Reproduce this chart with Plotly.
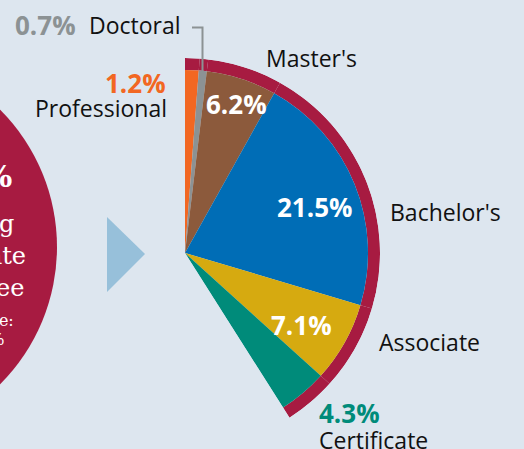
import math
import plotly.graph_objects as go

# ---- data ----
categories = ["Professional", "Doctoral", "Master's", "Bachelor's", "Associate", "Certificate"]
values = [1.2, 0.7, 6.2, 21.5, 7.1, 4.3]          # percent of population
colors = ["#f26722", "#8c9294", "#8c5a3c", "#006db6", "#d6aa10", "#008b7a"]
value_labels = ["1.2%", "0.7%", "6.2%", "21.5%", "7.1%", "4.3%"]

circle_lines = ["41%", "holding", "certificate", "or degree", "Statewide:", "47%"]

# ---- styling constants ----
W, H = 524, 449
BG = "#dde6ef"
CRIMSON = "#a71b41"
CX, CY = 185, 253          # pie center in pixels
R_OUT, R_IN = 195, 183
DEG_PER_PCT = 3.6

total = sum(values)
span = total * DEG_PER_PCT
cum = 0
thetas, widths = [], []
for v in values:
    thetas.append((cum + v / 2) * DEG_PER_PCT)
    widths.append(v * DEG_PER_PCT)
    cum += v

fig = go.Figure()

# invisible cartesian overlay for decorations/labels
fig.add_trace(go.Scatter(x=[0, W], y=[0, H], mode="markers",
                         marker=dict(opacity=0), hoverinfo="skip", showlegend=False))

# crimson outer ring
fig.add_trace(go.Barpolar(r=[R_OUT - R_IN] * len(values), base=[R_IN] * len(values),
                          theta=thetas, width=widths,
                          marker=dict(color=CRIMSON, line=dict(width=0)),
                          showlegend=False, hoverinfo="skip"))
# slices
fig.add_trace(go.Barpolar(r=[R_IN] * len(values), theta=thetas, width=widths,
                          marker=dict(color=colors, line=dict(width=0)),
                          text=categories, showlegend=False))

end_screen = 90 - span
dy_low = -math.sin(math.radians(end_screen)) if end_screen < 0 else 0
x0p, x1p = CX, CX + R_OUT
y_top, y_bot = CY - R_OUT, CY + dy_low * R_OUT
fig.update_layout(
    polar=dict(
        domain=dict(x=[x0p / W, x1p / W], y=[(H - y_bot) / H, (H - y_top) / H]),
        sector=[end_screen, 90],
        bgcolor="rgba(0,0,0,0)",
        bargap=0,
        angularaxis=dict(rotation=90, direction="clockwise", visible=False,
                         showgrid=False, showline=False, ticks=""),
        radialaxis=dict(range=[0, R_OUT], visible=False, showgrid=False,
                        showline=False, ticks=""),
        hole=0,
    )
)

shapes = [
    dict(type="circle", xref="x", yref="y", x0=-137 - 194, x1=-137 + 194,
         y0=247 - 194, y1=247 + 194, fillcolor=CRIMSON, line=dict(width=0), layer="below"),
    dict(type="path", xref="x", yref="y", path="M 107,217 L 145,254 L 107,292 Z",
         fillcolor="#97c0da", line=dict(width=0), layer="below"),
    dict(type="path", xref="x", yref="y", path="M 202.5,74 L 202.5,27.5 L 192,27.5",
         line=dict(color="#8c9294", width=2), layer="above"),
]

LABEL_FONT = "Open Sans"
LBL = 23
PCT = 26
ann = []


def label(text, x, y, xanchor="left", color="#111111", size=LBL, bold=False, align="left"):
    t = f"<b>{text}</b>" if bold else text
    ann.append(dict(text=t, x=x, y=y, xref="x", yref="y", xanchor=xanchor, yanchor="middle",
                    showarrow=False, align=align,
                    font=dict(family=LABEL_FONT, size=size, color=color)))


# Doctoral
label(value_labels[1], 78, 25, xanchor="right", color=colors[1], size=PCT, bold=True)
label(categories[1], 87, 25)
# Professional
label(value_labels[0], 168, 83, xanchor="right", color=colors[0], size=PCT, bold=True)
label(categories[0], 169, 108, xanchor="right")
# Master's
label(value_labels[2], 236, 104, xanchor="center", color="white", size=PCT, bold=True)
label(categories[2], 264, 58)
# Bachelor's
label(value_labels[3], 314, 207, xanchor="center", color="white", size=PCT, bold=True)
label(categories[3], 388, 212)
# Associate
label(value_labels[4], 301, 325, xanchor="center", color="white", size=PCT, bold=True)
label(categories[4], 377, 342)
# Certificate
label(value_labels[5], 317, 413, color=colors[5], size=PCT, bold=True)
label(categories[5], 317, 440)

SERIF = "DejaVu Serif"
circ_specs = [(circle_lines[0], 14, 176, 30, True),
              (circle_lines[1], 16, 224, 24, False),
              (circle_lines[2], 28, 256, 24, False),
              (circle_lines[3], 26, 288, 24, False),
              (circle_lines[4], 16, 320, 16, False),
              (circle_lines[5], 7, 339, 16, False)]
for txt, x, y, sz, b in circ_specs:
    ann.append(dict(text=f"<b>{txt}</b>" if b else txt, x=x, y=y, xref="x", yref="y",
                    xanchor="right", yanchor="middle", showarrow=False,
                    font=dict(family=SERIF, size=sz, color="white")))

fig.update_layout(
    width=W, height=H,
    margin=dict(l=0, r=0, t=0, b=0),
    paper_bgcolor=BG, plot_bgcolor=BG,
    xaxis=dict(range=[0, W], visible=False, fixedrange=True),
    yaxis=dict(range=[H, 0], visible=False, fixedrange=True),
    shapes=shapes,
    annotations=ann,
    showlegend=False,
)

fig.write_html("out.html", config={"displayModeBar": False},
               post_script="document.body.style.margin='0';document.body.style.overflow='hidden';")
